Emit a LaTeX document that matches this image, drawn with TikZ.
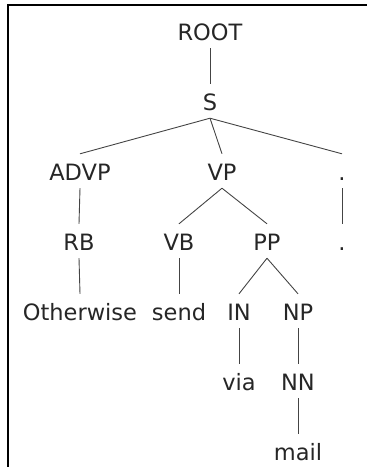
\documentclass[tikz,border=0pt]{standalone}
\usepackage{fontspec}
\setmainfont{DejaVu Sans}
\usepackage{xcolor}
\definecolor{treeink}{HTML}{262626}
\definecolor{treeline}{HTML}{444444}

\begin{document}
\begin{tikzpicture}[x=1pt, y=-1pt,
                    every node/.style={treeink, font=\fontsize{22.5}{27}\selectfont,
                                       anchor=base, text height=18pt, text depth=0pt,
                                       inner ysep=8pt, inner xsep=0pt},
                    branch/.style={treeline, line width=0.9pt}]

  \useasboundingbox (0,0) rectangle (367,467);

  %% 外框
  \draw[black, line width=1.6pt] (8,467) -- (8,5) -- (367,5);

  %% 各層節點
  \node (root)  at (210,40)  {ROOT};
  \node (s)     at (210,110) {S};
  \node (advp)  at (80,180)  {ADVP};
  \node (vp)    at (222,180) {VP};
  \node (punct) at (342,180) {.};
  \node (rb)    at (79,250)  {RB};
  \node (vb)    at (179,250) {VB};
  \node (pp)    at (267,250) {PP};
  \node (stop)  at (342,250) {.};
  \node (otherwise) at (80,320) {Otherwise};
  \node (send)  at (179,320) {send};
  \node (in)    at (239,320) {IN};
  \node (np)    at (298,320) {NP};
  \node (via)   at (239,390) {via};
  \node (nn)    at (298,390) {NN};
  \node (mail)  at (298,460) {mail};

  %% 樹枝
  \draw[branch] (root.south) -- (s.north);
  \draw[branch] (s.south) -- (advp.north);
  \draw[branch] (s.south) -- (vp.north);
  \draw[branch] (s.south) -- (punct.north);
  \draw[branch] (advp.south) -- (rb.north);
  \draw[branch] (vp.south) -- (vb.north);
  \draw[branch] (vp.south) -- (pp.north);
  \draw[branch] (punct.south) -- (stop.north);
  \draw[branch] (rb.south) -- (otherwise.north);
  \draw[branch] (vb.south) -- (send.north);
  \draw[branch] (pp.south) -- (in.north);
  \draw[branch] (pp.south) -- (np.north);
  \draw[branch] (in.south) -- (via.north);
  \draw[branch] (np.south) -- (nn.north);
  \draw[branch] (nn.south) -- (mail.north);

\end{tikzpicture}
\end{document}
